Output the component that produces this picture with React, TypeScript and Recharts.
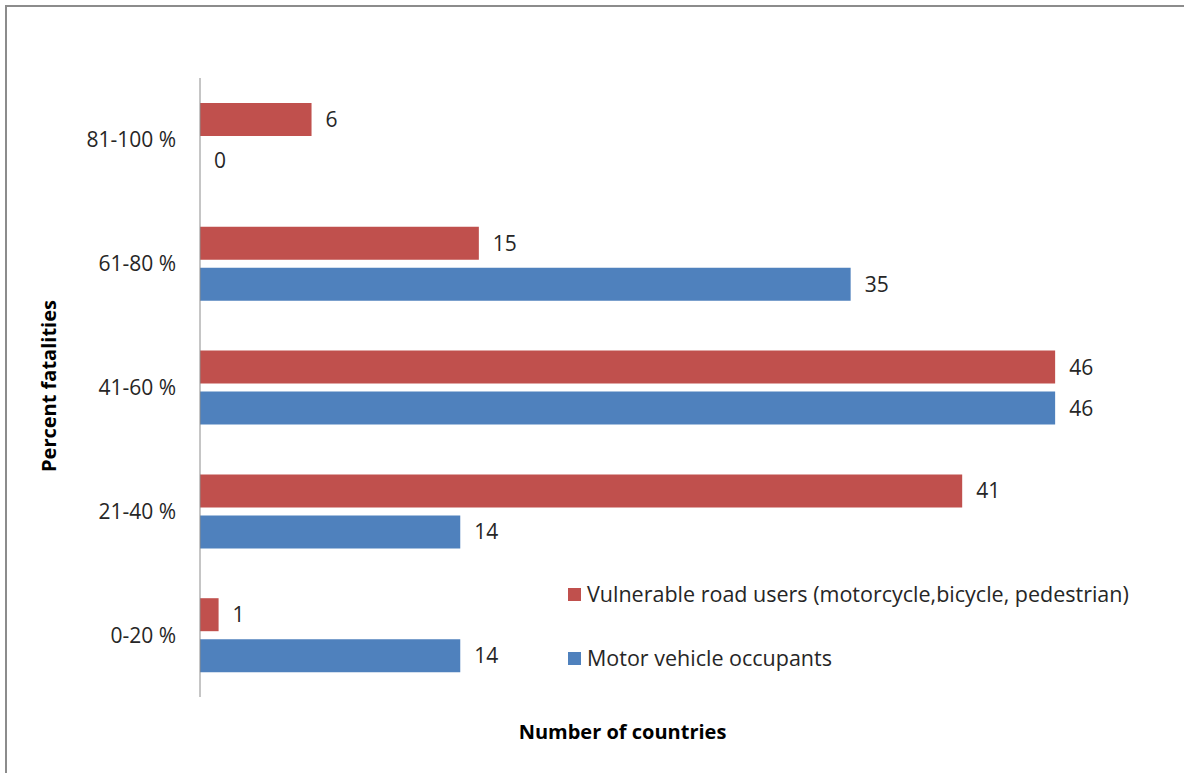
import React from 'react';
import { BarChart, Bar, XAxis, YAxis, LabelList, Legend } from 'recharts';

// Share of road traffic deaths, grouped by percentage band
const categories = ['81-100 %', '61-80 %', '41-60 %', '21-40 %', '0-20 %'];
const vulnerableUsers = [6, 15, 46, 41, 1];
const vehicleOccupants = [0, 35, 46, 14, 14];
const seriesNames = ['Vulnerable road users (motorcycle,bicycle, pedestrian)', 'Motor vehicle occupants'];
const xDomain: [number, number] = [0, 50];

const RED = '#C0504D';
const BLUE = '#4F81BD';
const TEXT = '#262626';
const FONT = '"Open Sans", Lato, sans-serif';
const FS = 21;
const TITLE_FS = 20;
const LEGEND_FS = 21.5;

const data = categories.map((band, i) => ({
  band,
  vulnerable: vulnerableUsers[i],
  occupants: vehicleOccupants[i],
}));

const legendItems = [
  { label: seriesNames[0], color: RED },
  { label: seriesNames[1], color: BLUE },
];

function LegendBox() {
  return (
    <div style={{ fontFamily: FONT, fontSize: LEGEND_FS, color: TEXT, lineHeight: '20px' }}>
      {legendItems.map((item, i) => (
        <div key={item.label} style={{ display: 'flex', alignItems: 'center', height: 20, marginBottom: i === 0 ? 44 : 0 }}>
          <span style={{ display: 'inline-block', width: 13, height: 13, background: item.color, marginRight: 6 }} />
          <span style={{ whiteSpace: 'nowrap' }}>{item.label}</span>
        </div>
      ))}
    </div>
  );
}

export default function App() {
  return (
    <div style={{ position: 'absolute', left: 0, top: 0, width: 1184, height: 773, overflow: 'hidden', background: '#fff' }}>
      <div style={{ position: 'absolute', left: 5, top: 5, width: 1200, height: 800, border: '2px solid #8c8c8c', boxSizing: 'border-box' }} />
      <div style={{ position: 'absolute', left: 0, top: 0 }}>
        <BarChart
          width={1184}
          height={773}
          layout="vertical"
          data={data}
          margin={{ top: 78, right: 54.5, bottom: 76, left: 0 }}
          barSize={33}
          barGap={8}
          style={{ fontFamily: FONT }}
        >
          <XAxis type="number" domain={xDomain} hide />
          <YAxis
            type="category"
            dataKey="band"
            width={200}
            tickSize={0}
            tickMargin={24}
            axisLine={{ stroke: '#8c8c8c', strokeWidth: 1 }}
            tickLine={false}
            tick={{ fill: TEXT, fontSize: FS, fontFamily: FONT }}
          />
          <Legend
            layout="vertical"
            verticalAlign="middle"
            align="center"
            wrapperStyle={{ left: 568, top: 584, width: 620 }}
            content={() => <LegendBox />}
          />
          <Bar dataKey="vulnerable" name={seriesNames[0]} fill={RED} minPointSize={0.01} isAnimationActive={false}>
            <LabelList dataKey="vulnerable" position="right" offset={14} fill={TEXT} fontSize={FS} fontFamily={FONT} />
          </Bar>
          <Bar dataKey="occupants" name={seriesNames[1]} fill={BLUE} minPointSize={0.01} isAnimationActive={false}>
            <LabelList dataKey="occupants" position="right" offset={14} fill={TEXT} fontSize={FS} fontFamily={FONT} />
          </Bar>
        </BarChart>
      </div>
      <div style={{ position: 'absolute', left: 0, width: 1245, top: 719, textAlign: 'center', fontFamily: FONT, fontWeight: 700, fontSize: TITLE_FS, color: '#000', lineHeight: '26px' }}>
        Number of countries
      </div>
      <div
        style={{
          position: 'absolute',
          left: 49,
          top: 386,
          transform: 'translate(-50%, -50%) rotate(-90deg)',
          whiteSpace: 'nowrap',
          fontFamily: FONT,
          fontWeight: 700,
          fontSize: TITLE_FS,
          color: '#000',
          lineHeight: '26px',
        }}
      >
        Percent fatalities
      </div>
    </div>
  );
}
